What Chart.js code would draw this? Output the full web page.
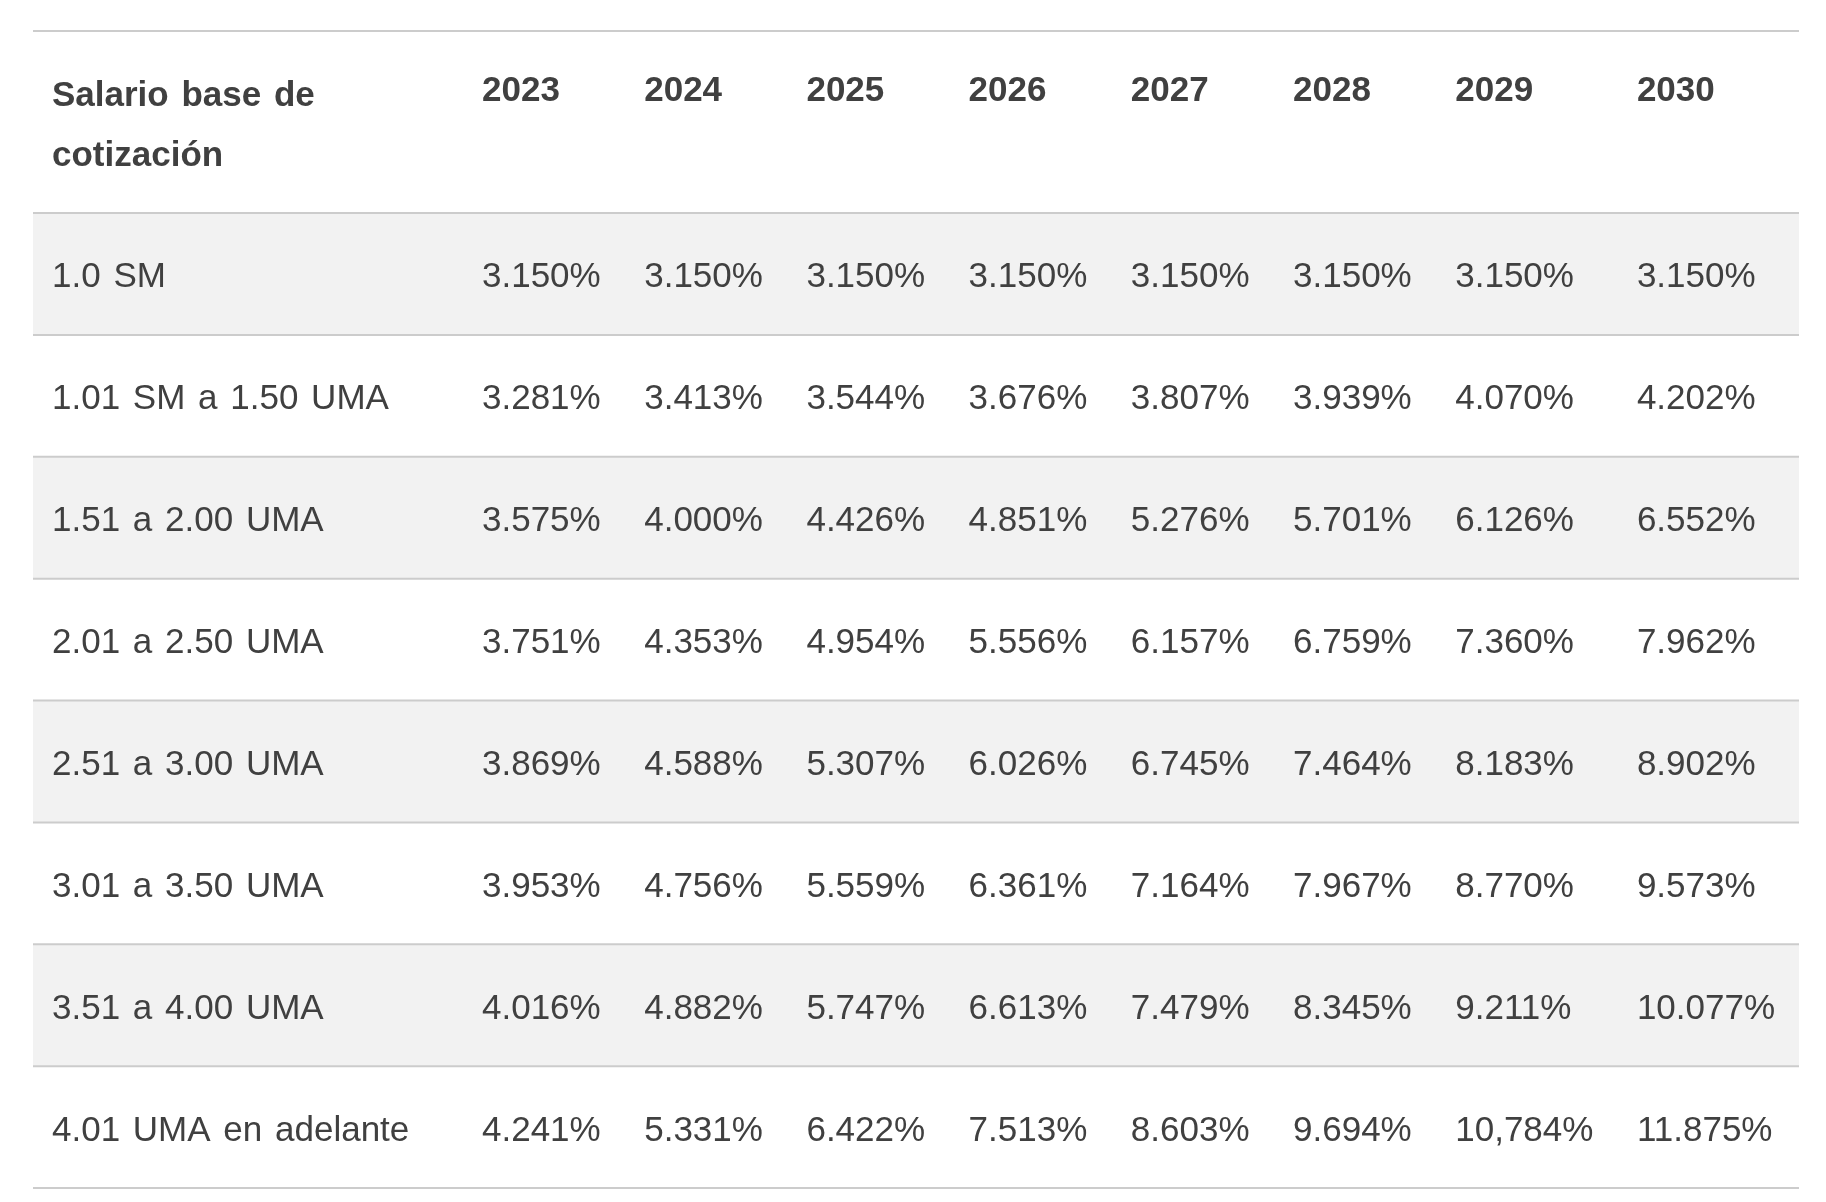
<!DOCTYPE html>
<html><head><meta charset="utf-8">
<script src="https://cdn.jsdelivr.net/npm/chart.js@4.4.0/dist/chart.umd.min.js"></script>
<style>html,body{margin:0;padding:0;background:#fff;} #wrap{width:1826px;height:1202px;position:relative;}</style>
</head><body><div id="wrap"><canvas id="c"></canvas></div>
<script>
// ---- data ----
const headerTitle = ['Salario base de', 'cotización'];
const years = ['2023', '2024', '2025', '2026', '2027', '2028', '2029', '2030'];
const rowLabels = ['1.0 SM', '1.01 SM a 1.50 UMA', '1.51 a 2.00 UMA', '2.01 a 2.50 UMA',
  '2.51 a 3.00 UMA', '3.01 a 3.50 UMA', '3.51 a 4.00 UMA', '4.01 UMA en adelante'];
const sm100        = [3.150, 3.150, 3.150, 3.150, 3.150, 3.150, 3.150, 3.150];
const sm101_uma150 = [3.281, 3.413, 3.544, 3.676, 3.807, 3.939, 4.070, 4.202];
const uma151_200   = [3.575, 4.000, 4.426, 4.851, 5.276, 5.701, 6.126, 6.552];
const uma201_250   = [3.751, 4.353, 4.954, 5.556, 6.157, 6.759, 7.360, 7.962];
const uma251_300   = [3.869, 4.588, 5.307, 6.026, 6.745, 7.464, 8.183, 8.902];
const uma301_350   = [3.953, 4.756, 5.559, 6.361, 7.164, 7.967, 8.770, 9.573];
const uma351_400   = [4.016, 4.882, 5.747, 6.613, 7.479, 8.345, 9.211, 10.077];
const uma401_plus  = [4.241, 5.331, 6.422, 7.513, 8.603, 9.694, 10.784, 11.875];
// the source prints this one cell with a decimal comma
const commaDecimalCells = [{ row: '4.01 UMA en adelante', year: '2029' }];

const rowValues = [sm100, sm101_uma150, uma151_200, uma201_250, uma251_300, uma301_350, uma351_400, uma401_plus];

// ---- styles / layout ----
const FONT = "'Liberation Sans', Arial, Helvetica, sans-serif";
const BODY_FONT = '35px ' + FONT;
const HEAD_FONT = 'bold 35px ' + FONT;
const TEXT = '#404040';
const SHADE = '#f2f2f2';
const RULE = '#cccccc';
const WORD_SPACING = '3px';
const TABLE_LEFT = 33, TABLE_RIGHT = 1799, TABLE_TOP = 31, TEXT_LEFT = 52;
const FIRST_COL_LEFT = 482;   // where the year columns begin
const CELL_GAP = 43.5;        // horizontal cell padding between columns

function fmt(v, rowLabel, year) {
  let s = v.toFixed(3);
  if (commaDecimalCells.some(c => c.row === rowLabel && c.year === year)) s = s.replace('.', ',');
  return s + '%';
}

// auto-layout: each year column is as wide as its widest text plus padding
const mctx = document.createElement('canvas').getContext('2d');
const colWidths = years.map((yr, j) => {
  mctx.font = HEAD_FONT;
  let w = mctx.measureText(yr).width;
  mctx.font = BODY_FONT;
  rowLabels.forEach((lab, i) => { w = Math.max(w, mctx.measureText(fmt(rowValues[i][j], lab, yr)).width); });
  return w + CELL_GAP;
});
const colStarts = [];
colWidths.reduce((acc, w, j) => { colStarts[j] = acc; return acc + w; }, 0);
const totalWidth = colWidths.reduce((a, b) => a + b, 0);

const tablePlugin = {
  id: 'tablePlugin',
  beforeDatasetsDraw(chart) {
    const ctx = chart.ctx;
    const ys = chart.scales.y;
    const rowH = ys.getPixelForValue(1) - ys.getPixelForValue(0);
    ctx.save();
    rowLabels.forEach((lab, i) => {
      if (i % 2 === 0) {
        const cy = ys.getPixelForValue(i);
        ctx.fillStyle = SHADE;
        ctx.fillRect(TABLE_LEFT, cy - rowH / 2, TABLE_RIGHT - TABLE_LEFT, rowH);
      }
    });
    ctx.strokeStyle = RULE;
    ctx.lineWidth = 2;
    const lines = [TABLE_TOP, chart.chartArea.top];
    rowLabels.forEach((lab, i) => lines.push(ys.getPixelForValue(i) + rowH / 2));
    lines.forEach(y => {
      ctx.beginPath();
      ctx.moveTo(TABLE_LEFT, y);
      ctx.lineTo(TABLE_RIGHT, y);
      ctx.stroke();
    });
    ctx.restore();
  },
  afterDatasetsDraw(chart) {
    const ctx = chart.ctx;
    const xs = chart.scales.x;
    const ys = chart.scales.y;
    ctx.save();
    ctx.fillStyle = TEXT;
    ctx.textAlign = 'left';
    ctx.textBaseline = 'alphabetic';
    if ('wordSpacing' in ctx) ctx.wordSpacing = WORD_SPACING;
    ctx.font = HEAD_FONT;
    ctx.fillText(headerTitle[0], TEXT_LEFT, 106);
    ctx.fillText(headerTitle[1], TEXT_LEFT, 166);
    years.forEach((yr, j) => ctx.fillText(yr, xs.getPixelForValue(colStarts[j]), 101));
    ctx.font = BODY_FONT;
    rowLabels.forEach((lab, i) => {
      const cy = ys.getPixelForValue(i);
      ctx.fillText(lab, TEXT_LEFT, cy + 13.5);
      const meta = chart.getDatasetMeta(i);
      meta.data.forEach((pt, j) => {
        const raw = chart.data.datasets[i].data[j];
        ctx.fillText(fmt(raw.v, lab, years[j]), pt.x, pt.y + 13.5);
      });
    });
    ctx.restore();
  }
};

new Chart(document.getElementById('c'), {
  type: 'scatter',
  data: {
    datasets: rowLabels.map((lab, i) => ({
      label: lab,
      data: years.map((yr, j) => ({ x: colStarts[j], y: lab, v: rowValues[i][j] })),
      pointRadius: 0,
      pointHoverRadius: 0,
      showLine: false
    }))
  },
  options: {
    responsive: true,
    maintainAspectRatio: false,
    animation: false,
    layout: { padding: { left: FIRST_COL_LEFT, right: 1826 - FIRST_COL_LEFT - totalWidth, top: 213, bottom: 14 } },
    plugins: { legend: { display: false }, tooltip: { enabled: false } },
    events: [],
    scales: {
      x: { type: 'linear', min: 0, max: totalWidth, display: false },
      y: { type: 'category', labels: rowLabels, offset: true, display: false }
    }
  },
  plugins: [tablePlugin]
});
</script>
</body></html>
